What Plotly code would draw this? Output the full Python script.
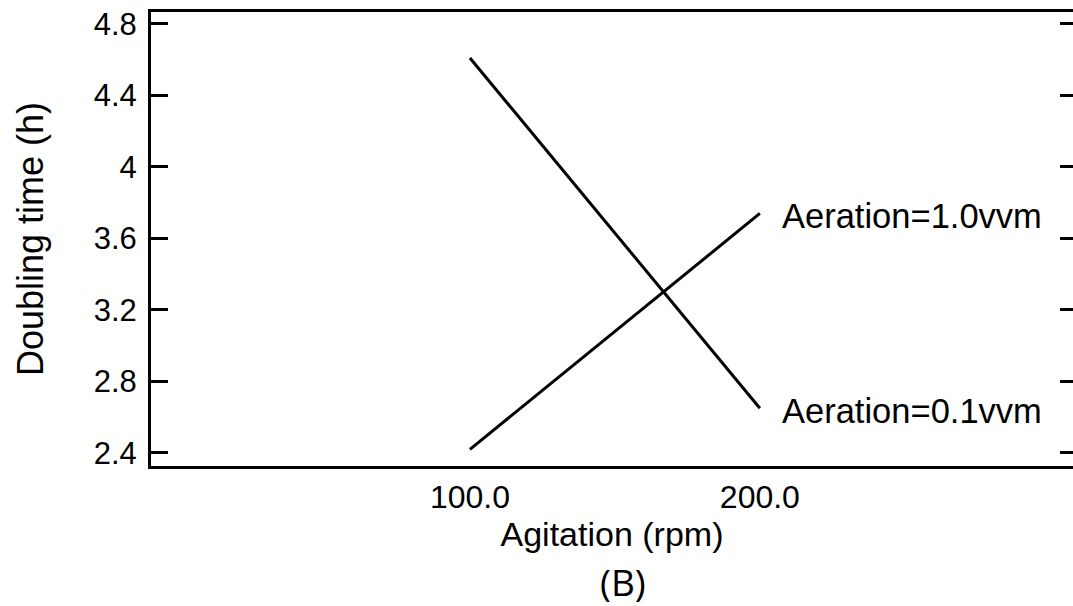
import plotly.graph_objects as go

# Doubling time vs agitation for two aeration rates
agitation = [100.0, 200.0]
aeration_labels = ["Aeration=0.1vvm", "Aeration=1.0vvm"]
doubling_low_aeration = [4.61, 2.65]
doubling_high_aeration = [2.42, 3.74]

y_ticks = [2.4, 2.8, 3.2, 3.6, 4.0, 4.4, 4.8]
y_tick_text = ["2.4", "2.8", "3.2", "3.6", "4", "4.4", "4.8"]
x_ticks = [100.0, 200.0]
x_tick_text = ["100.0", "200.0"]

FONT = "Liberation Sans, Arial, sans-serif"
y_range = [2.327, 4.867]
x_range = [-10, 308]

fig = go.Figure()
for yvals, label in [(doubling_low_aeration, aeration_labels[0]),
                     (doubling_high_aeration, aeration_labels[1])]:
    fig.add_trace(go.Scatter(x=agitation, y=yvals, mode="lines",
                             line=dict(color="black", width=3),
                             showlegend=False, hoverinfo="skip"))
    fig.add_annotation(x=agitation[-1], y=yvals[-1], text=label,
                       showarrow=False, xanchor="left", yanchor="middle",
                       xshift=20, yshift=-3,
                       font=dict(family=FONT, size=34.5, color="black"))

# invisible trace carrying the right-hand tick axis
fig.add_trace(go.Scatter(x=[agitation[0]], y=[y_ticks[0]], yaxis="y2",
                         mode="markers", marker=dict(opacity=0),
                         showlegend=False, hoverinfo="skip"))

fig.update_layout(
    width=1073, height=606,
    margin=dict(l=151, r=0, t=12, b=140),
    plot_bgcolor="white", paper_bgcolor="white",
    xaxis=dict(range=x_range, tickvals=x_ticks, ticktext=x_tick_text,
               ticks="", showgrid=False, zeroline=False,
               showline=True, linecolor="black", linewidth=3, mirror=True,
               ticklabelstandoff=1,
               tickfont=dict(family=FONT, size=32, color="black"),
               title=dict(text="Agitation (rpm)", standoff=0,
                          font=dict(family=FONT, size=34, color="black"))),
    yaxis=dict(range=y_range, tickvals=y_ticks, ticktext=y_tick_text,
               ticks="inside", ticklen=17, tickwidth=3, tickcolor="black",
               showgrid=False, zeroline=False,
               showline=True, linecolor="black", linewidth=3,
               ticklabelstandoff=5,
               tickfont=dict(family=FONT, size=31, color="black"),
               title=dict(text="Doubling time (h)", standoff=40,
                          font=dict(family=FONT, size=36, color="black"))),
    yaxis2=dict(range=y_range, tickvals=y_ticks, overlaying="y", side="right",
                ticks="inside", ticklen=13, tickwidth=3, tickcolor="black",
                showticklabels=False, showgrid=False, zeroline=False,
                showline=False),
)

fig.add_annotation(x=0.5, y=0, xref="paper", yref="paper",
                   text="(B)", showarrow=False, xanchor="center",
                   yanchor="middle", yshift=-115, xshift=11,
                   font=dict(family="Open Sans, sans-serif", size=37,
                             color="black"))

fig.write_html("out.html")
